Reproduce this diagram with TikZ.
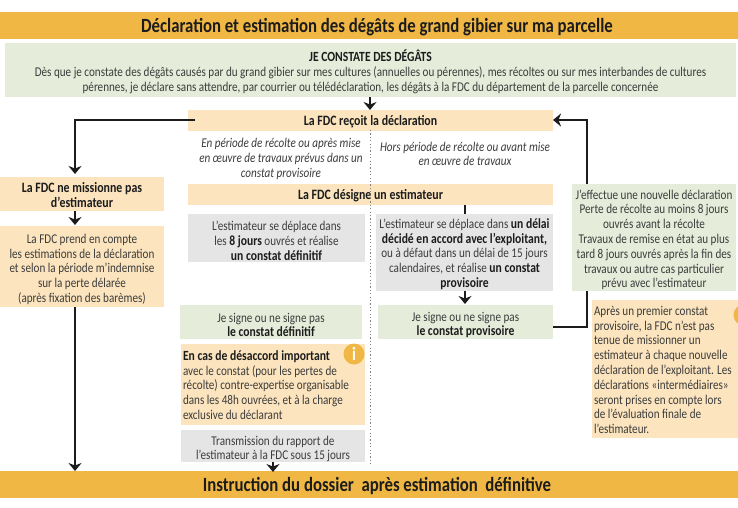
\documentclass[tikz,border=0pt]{standalone}
\usepackage{fontspec}
\setmainfont[FakeStretch=0.83]{Carlito}
\usetikzlibrary{arrows.meta,calc}
\definecolor{barc}{HTML}{F0B744}
\definecolor{greenc}{HTML}{E5ECDA}
\definecolor{orangec}{HTML}{FBE4BE}
\definecolor{grayc}{HTML}{E5E5E5}
\definecolor{txt}{HTML}{3C3C3C}
\definecolor{ink}{HTML}{1C1C1C}
\tikzset{
  base/.style={inner sep=0pt,outer sep=0pt,anchor=north west,align=center,text=txt,font=\fontsize{13.4}{14.8}\selectfont},
  barbox/.style={base,fill=barc,text=ink,font=\fontsize{20.2}{22}\selectfont\bfseries},
  greenbox/.style={base,fill=greenc},
  orangebox/.style={base,fill=orangec},
  graybox/.style={base,fill=grayc},
  hdrbox/.style={base,fill=orangec,text=ink,font=\fontsize{14.3}{15}\selectfont\bfseries},
  size/.style 2 args={minimum width=#1,minimum height=#2},
  conn/.style={draw=ink,line width=2pt},
  arr/.style={conn,-{Stealth[length=8pt,width=13pt,inset=2.5pt]}},
  sepline/.style={draw=gray,line width=1.2pt,dash pattern=on 1.2pt off 2.2pt},
  freetext/.style={inner sep=0pt,outer sep=0pt,align=center,text=txt,font=\fontsize{13.4}{14.6}\selectfont\itshape},
  infoc/.style={circle,fill=barc,minimum size=21pt,inner sep=0pt,text=white,font=\fontsize{19}{19}\selectfont\bfseries},
}
\newcommand{\bt}[1]{{\color{ink}\fontsize{14}{14.8}\selectfont\bfseries #1}}
\newcommand{\lf}[1]{\rule{0pt}{#1pt}}
\begin{document}
\begin{tikzpicture}[x=1pt,y=-1pt]
\useasboundingbox (0,0) rectangle (738,507);
\clip (0,0) rectangle (738,507);
\fill[white] (0,0) rectangle (738,507);

\node[barbox,size={738pt}{27pt}] (title) at (0,12) {\lf{18}\hspace*{16pt}Déclaration et estimation des dégâts de grand gibier sur ma parcelle};
\node[greenbox,size={731pt}{54pt}] (constate) at (5,43) {\lf{15}\bt{JE CONSTATE DES DÉGÂTS}\\Dès que je constate des dégâts causés par du grand gibier sur mes cultures (annuelles ou pérennes), mes récoltes ou sur mes interbandes de cultures\\pérennes, je déclare sans attendre, par courrier ou télédéclaration, les dégâts à la FDC du département de la parcelle concernée};
\node[hdrbox,size={365pt}{21pt}] (recoit) at (188,110) {\lf{12}La FDC reçoit la déclaration};
\node[freetext] (periode) at (281,159) {En période de récolte ou après mise\\en œuvre de travaux prévus dans un\\constat provisoire};
\node[freetext] (hors) at (465,154) {Hors période de récolte ou avant mise\\en œuvre de travaux};
\node[hdrbox,size={365pt}{21pt}] (designe) at (188,184) {\lf{12}La FDC désigne un estimateur};

\node[hdrbox,size={164pt}{34pt}] (nomission) at (0,177) {\lf{13}La FDC ne missionne pas\\d’estimateur};
\node[orangebox,size={164pt}{81pt}] (prend) at (0,226) {\lf{15}La FDC prend en compte\\les estimations de la déclaration\\et selon la période m’indemnise\\sur la perte délarée\\(après fixation des barèmes)};

\node[graybox,size={177pt}{48pt}] (graydef) at (188,214) {\lf{15}L’estimateur se déplace dans\\les \bt{8 jours} ouvrés et réalise\\\bt{un constat définitif}};
\node[graybox,size={177pt}{77pt}] (grayprov) at (376,214) {\lf{13}L’estimateur se déplace dans \bt{un délai}\\\bt{décidé en accord avec l’exploitant,}\\ou à défaut dans un délai de 15 jours\\calendaires, et réalise \bt{un constat}\\\bt{provisoire}};
\node[greenbox,size={182pt}{34pt}] (signedef) at (180,305) {\lf{15}Je signe ou ne signe pas\\\bt{le constat définitif}};
\node[greenbox,size={175pt}{34pt}] (signeprov) at (378,305) {\lf{15}Je signe ou ne signe pas\\\bt{le constat provisoire}};
\node[orangebox,size={184pt}{81pt}] (desaccord) at (181,344) {\begin{minipage}[c]{180pt}\raggedright\fontsize{13.4}{14.6}\selectfont\vspace*{1pt}\bt{En cas de désaccord important}\\avec le constat (pour les pertes de\\récolte) contre-expertise organisable\\dans les 48h ouvrées, et à la charge\\exclusive du déclarant\end{minipage}};
\node[graybox,size={184pt}{32pt}] (rapport) at (181,430) {\lf{15}Transmission du rapport de\\l’estimateur à la FDC sous 15 jours};
\node[barbox,size={738pt}{27pt}] (instruction) at (0,471) {\lf{18}\hspace*{16pt}Instruction du dossier\ \ après estimation\ \ définitive};

\node[greenbox,size={164pt}{107pt}] (nouvelle) at (572,184) {\lf{14}J’effectue une nouvelle déclaration\\Perte de récolte au moins 8 jours\\ouvrés avant la récolte\\Travaux de remise en état au plus\\tard 8 jours ouvrés après la fin des\\travaux ou autre cas particulier\\prévu avec l’estimateur};
\node[orangebox,size={146pt}{138pt}] (apres) at (592,300) {\begin{minipage}[c]{142pt}\raggedright\fontsize{13.4}{14.8}\selectfont\vspace*{2pt}Après un premier constat\\provisoire, la FDC n’est pas\\tenue de missionner un\\estimateur à chaque nouvelle\\déclaration de l’exploitant. Les\\déclarations «intermédiaires»\\seront prises en compte lors\\de l’évaluation finale de\\l’estimateur.\end{minipage}};

\node[infoc] (info1) at (354,354) {i};
\node[infoc] (info2) at (744,315) {};

\coordinate (septop) at (370.5,130);
\coordinate (sepbot) at (370.5,466);
\draw[sepline] (septop) -- (sepbot);

% connectors
\coordinate (a1) at (370,97);
\coordinate (a2) at (370,110);
\draw[arr] (a1) -- (a2);
\coordinate (l1) at (195,120);
\coordinate (l2) at (75,120);
\coordinate (l3) at (75,174);
\draw[arr] (l1) -- (l2) -- (l3);
\coordinate (n1) at (75,211);
\coordinate (n2) at (75,225);
\draw[arr] (n1) -- (n2);
\coordinate (p1) at (75,307);
\coordinate (p2) at (75,471);
\draw[arr] (p1) -- (p2);
\coordinate (s1) at (465,205);
\coordinate (s2) at (465,214);
\draw[conn] (s1) -- (s2);
\coordinate (g1) at (465,291);
\coordinate (g2) at (465,304);
\draw[arr] (g1) -- (g2);
\coordinate (r1) at (273,462);
\coordinate (r2) at (273,472);
\draw[arr] (r1) -- (r2);
\coordinate (k) at (586.5,327);
\draw[conn] (signeprov.east |- k) -- (k) -- (k |- nouvelle.south);
\coordinate (m) at (586.5,120);
\draw[arr] (m |- nouvelle.north) -- (m) -- (recoit.east |- m);
\end{tikzpicture}
\end{document}
